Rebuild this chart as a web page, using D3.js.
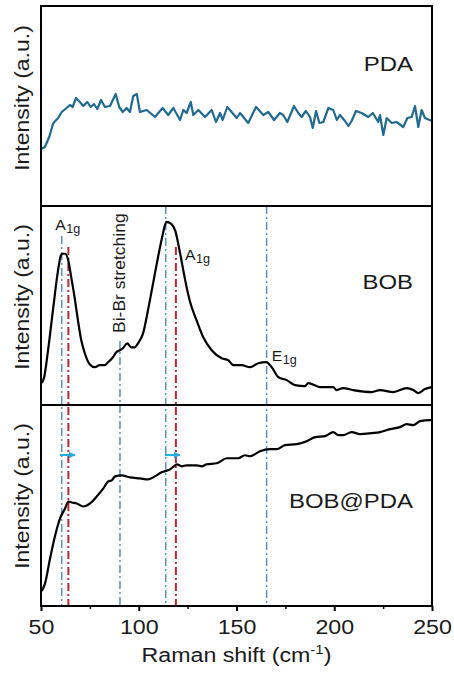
<!DOCTYPE html>
<html>
<head>
<meta charset="utf-8">
<script src="https://cdn.jsdelivr.net/npm/d3@7"></script>
<style>
  html, body { margin: 0; padding: 0; background: #fff; }
  svg { display: block; font-family: "Liberation Sans", Arial, sans-serif; }
</style>
</head>
<body>
<svg id="chart" width="454" height="673"></svg>
<script>
// Raman spectra of PDA, BOB and BOB@PDA (stacked panels, shared Raman-shift axis)

const panelNames = ["PDA", "BOB", "BOB@PDA"];
const xTicks = [50, 100, 150, 200, 250];
const xMinorTicks = [75, 125, 175, 225];

const pdaShift = [50, 52.0, 54.2, 56.3, 58.8, 60.6, 63.1, 64.8, 66.2, 67.9, 69.9, 71.6, 73.7, 75.4, 77.1, 78.8, 80.7, 82.7, 85.3, 88.2, 90.0, 91.8, 93.8, 95.5, 97.2, 99.0, 100.6, 104.1, 108.3, 112.2, 115.1, 117.7, 121.1, 122.8, 124.5, 126.6, 127.9, 130.5, 133.9, 137.3, 139.5, 141.6, 142.9, 145.3, 147.5, 150.1, 151.8, 156.0, 160.0, 163.7, 166.3, 169.2, 172.2, 173.9, 176.0, 179.4, 181.6, 183.3, 185.5, 187.6, 189.0, 190.7, 192.4, 194.4, 197.0, 199.5, 201.3, 202.9, 205.5, 207.2, 208.9, 211.1, 214.0, 217.4, 219.7, 222.5, 223.4, 225.1, 226.8, 229.4, 231.9, 235.3, 237.4, 239.6, 241.3, 243.0, 244.7, 246.4, 250];
const pdaIntensity = [57, 59, 69, 83, 88, 94, 98, 101, 99, 108, 104, 100, 104, 99, 102, 97, 106, 99, 100, 112, 99, 94, 98, 94, 110, 112, 94, 96, 89, 98, 91, 98, 86, 96, 93, 104, 91, 96, 89, 96, 84, 93, 86, 99, 94, 88, 93, 83, 99, 91, 94, 86, 93, 91, 84, 100, 93, 89, 95, 89, 78, 95, 83, 84, 98, 96, 86, 91, 85, 80, 85, 95, 93, 89, 93, 84, 91, 71, 88, 83, 84, 79, 88, 89, 100, 79, 96, 88, 85];

const bobShift = [50.2, 51.5, 53.6, 56.1, 58.7, 60.1, 60.7, 62.4, 64.2, 65.5, 67.2, 68.9, 70.6, 72.4, 74.9, 77.5, 80.0, 82.6, 84.3, 86.8, 88.5, 90.3, 91.9, 94.1, 96.2, 97.9, 99.6, 102.2, 104.7, 107.3, 109.8, 111.9, 113.3, 114.1, 116.6, 118.7, 120.9, 123.5, 125.2, 126.2, 129.6, 133.0, 137.3, 142.4, 145.8, 148.4, 152.7, 156.9, 161.2, 165.1, 168.0, 171.4, 175.7, 179.9, 185.0, 186.7, 192.7, 199.5, 201.2, 204.6, 209.7, 219.2, 223.4, 230.2, 237.1, 240.4, 243.0, 246.4, 249.8];
const bobIntensity = [22, 27, 55, 95, 135, 150, 152, 152, 143, 128, 108, 85, 65, 52, 41, 38, 40, 40, 43, 48, 53, 55, 57, 62, 58, 58, 62, 72, 95, 122, 148, 168, 180, 184, 182, 175, 155, 128, 112, 104, 85, 68, 55, 47, 45, 40, 40, 38, 42, 43, 38, 28, 25, 20, 19, 22, 18, 18, 15, 17, 15, 13, 15, 13, 17, 15, 12, 16, 18];

const bobPdaShift = [50.4, 52.0, 54.6, 57.2, 59.7, 62.3, 64.0, 65.7, 68.3, 71.6, 75.1, 78.5, 81.9, 84.4, 86.2, 87.9, 91.3, 95.5, 100.6, 104.9, 108.3, 111.7, 116.0, 118.0, 119.4, 122.0, 124.5, 129.6, 132.2, 134.8, 139.9, 145.0, 150.9, 154.3, 156.9, 162.0, 167.1, 170.6, 174.8, 180.8, 185.9, 190.2, 195.3, 199.5, 202.1, 204.6, 208.9, 213.2, 219.2, 223.4, 228.5, 233.6, 237.1, 240.4, 243.9, 249.0, 250];
const bobPdaIntensity = [15, 22, 47, 70, 87, 97, 104, 103, 102, 99, 102, 109, 117, 124, 125, 129, 130, 128, 127, 126, 129, 133, 136, 139, 141, 139, 140, 140, 139, 141, 142, 147, 147, 150, 149, 154, 156, 156, 160, 161, 164, 168, 169, 173, 170, 170, 173, 171, 172, 173, 176, 178, 181, 180, 184, 185, 185];

// Mode positions (cm^-1): reference (blue) and PDA-shifted (red)
const bluePeaks = [60.6, 90.4, 113.8, 165.4];
const redPeaks = [64.0, 119.0];
// Shift arrows (from, to) in cm^-1
const arrowFrom = [59.7, 113.4];
const arrowTo = [67.4, 121.1];

const series = [
  { x: pdaShift, y: pdaIntensity, color: "#1f6992", width: 2.2, curve: d3.curveLinear },
  { x: bobShift, y: bobIntensity, color: "#000", width: 2.2, curve: d3.curveMonotoneX },
  { x: bobPdaShift, y: bobPdaIntensity, color: "#000", width: 2.2, curve: d3.curveMonotoneX }
];

// ---- layout ----
const left = 41, right = 432;
const panelTop = [6, 206, 405];
const panelBottom = [206, 405, 606];
const textColor = "#1a1a1a";
const blueCol = "#5b8dc4", redCol = "#c1272d", arrowCol = "#27a9e1";
const dash = "8,3,2,3";

const svg = d3.select("#chart");
const x = d3.scaleLinear().domain([50, 250]).range([left, right]);
const yScales = panelTop.map((t, i) => d3.scaleLinear().domain([0, 200]).range([panelBottom[i], t]));

// stretched text helper
function label(g, tx, ty, str, size, sx, anchor, rot) {
  const t = g.append("text")
    .attr("transform", `translate(${tx},${ty})` + (rot ? ` rotate(${rot})` : "") + ` scale(${sx},1)`)
    .attr("text-anchor", anchor)
    .attr("font-size", size)
    .attr("fill", textColor)
    .text(str);
  return t;
}

// ---- reference lines ----
// vertical start offsets inside the BOB panel (px below its top)
const blueStart = [30, 135, 0, 0];
const redStart = [41, 41];
const refG = svg.append("g");
bluePeaks.forEach((p, i) => {
  refG.append("line")
    .attr("x1", x(p)).attr("x2", x(p))
    .attr("y1", panelTop[1] + blueStart[i]).attr("y2", panelBottom[2])
    .attr("stroke", blueCol).attr("stroke-width", 1.5)
    .attr("stroke-dasharray", dash);
});
redPeaks.forEach((p, i) => {
  refG.append("line")
    .attr("x1", x(p)).attr("x2", x(p))
    .attr("y1", panelTop[1] + redStart[i]).attr("y2", panelBottom[2])
    .attr("stroke", redCol).attr("stroke-width", 2)
    .attr("stroke-dasharray", dash);
});

// ---- spectra ----
series.forEach((s, i) => {
  const pts = s.x.map((v, k) => [v, s.y[k]]);
  const line = d3.line().x(d => x(d[0])).y(d => yScales[i](d[1])).curve(s.curve);
  svg.append("path")
    .datum(pts)
    .attr("d", line)
    .attr("fill", "none")
    .attr("stroke", s.color)
    .attr("stroke-width", s.width)
    .attr("stroke-linejoin", "round");
});

// ---- shift arrows ----
const defs = svg.append("defs");
defs.append("marker")
  .attr("id", "ah").attr("viewBox", "0 0 10 10")
  .attr("refX", 9).attr("refY", 5)
  .attr("markerWidth", 3.6).attr("markerHeight", 3.6)
  .attr("orient", "auto")
  .append("path").attr("d", "M0,0 L10,5 L0,10 Z").attr("fill", arrowCol);
const arrowY = panelTop[2] + 50;
arrowFrom.forEach((a, i) => {
  svg.append("line")
    .attr("x1", x(a)).attr("x2", x(arrowTo[i]))
    .attr("y1", arrowY).attr("y2", arrowY)
    .attr("stroke", arrowCol).attr("stroke-width", 2)
    .attr("marker-end", "url(#ah)");
});

// ---- panel frames ----
panelTop.forEach((t, i) => {
  svg.append("rect")
    .attr("x", left).attr("y", t)
    .attr("width", right - left).attr("height", panelBottom[i] - t)
    .attr("fill", "none").attr("stroke", "#000").attr("stroke-width", 2);
});

// ---- bottom axis ----
const axisG = svg.append("g").attr("transform", `translate(0,${panelBottom[2]})`);
axisG.call(d3.axisBottom(x).tickValues(xTicks).tickSize(5).tickFormat(d3.format("d")))
  .call(g => g.select(".domain").remove())
  .call(g => g.selectAll(".tick line").attr("stroke", "#000").attr("stroke-width", 2))
  .call(g => g.selectAll(".tick text")
    .attr("y", 28).attr("dy", 0)
    .attr("font-size", 20)
    .attr("font-family", "Liberation Sans, Arial, sans-serif")
    .attr("fill", textColor)
    .attr("transform", "scale(1.16,1)"));
svg.append("g").attr("transform", `translate(0,${panelBottom[2]})`)
  .call(d3.axisBottom(x).tickValues(xMinorTicks).tickSize(3).tickFormat(""))
  .call(g => g.select(".domain").remove())
  .call(g => g.selectAll(".tick line").attr("stroke", "#000").attr("stroke-width", 1.5));

// axis title with superscript
const title = svg.append("text")
  .attr("transform", `translate(${(left + right) / 2},662) scale(1.16,1)`)
  .attr("text-anchor", "middle")
  .attr("font-size", 20)
  .attr("fill", textColor);
title.append("tspan").text("Raman shift (cm");
title.append("tspan").attr("font-size", 13).attr("dy", -8).text("-1");
title.append("tspan").attr("dy", 8).text(")");

// ---- y labels and panel names ----
const yLabelCenter = [98, 297, 496];
const nameBaseline = [71, 289, 508];
panelTop.forEach((t, i) => {
  label(svg, 29, yLabelCenter[i], "Intensity (a.u.)", 20, 1.15, "middle", -90);
  label(svg, 413, nameBaseline[i], panelNames[i], 21, 1.14, "end");
});

// ---- mode labels ----
function modeLabel(px, py, main, sub) {
  const t = svg.append("text")
    .attr("transform", `translate(${px},${py}) scale(1.05,1)`)
    .attr("font-size", 15)
    .attr("fill", textColor);
  t.append("tspan").text(main);
  t.append("tspan").attr("font-size", 12).attr("dy", 3).attr("dx", 0.5).text(sub);
}
modeLabel(x(57.3), 230, "A", "1g");
modeLabel(x(123.7), 260, "A", "1g");
modeLabel(x(168.0), 361, "E", "1g");
label(svg, x(90.4) + 5, 333, "Bi-Br stretching", 17, 1.03, "start", -90);
</script>
</body>
</html>
